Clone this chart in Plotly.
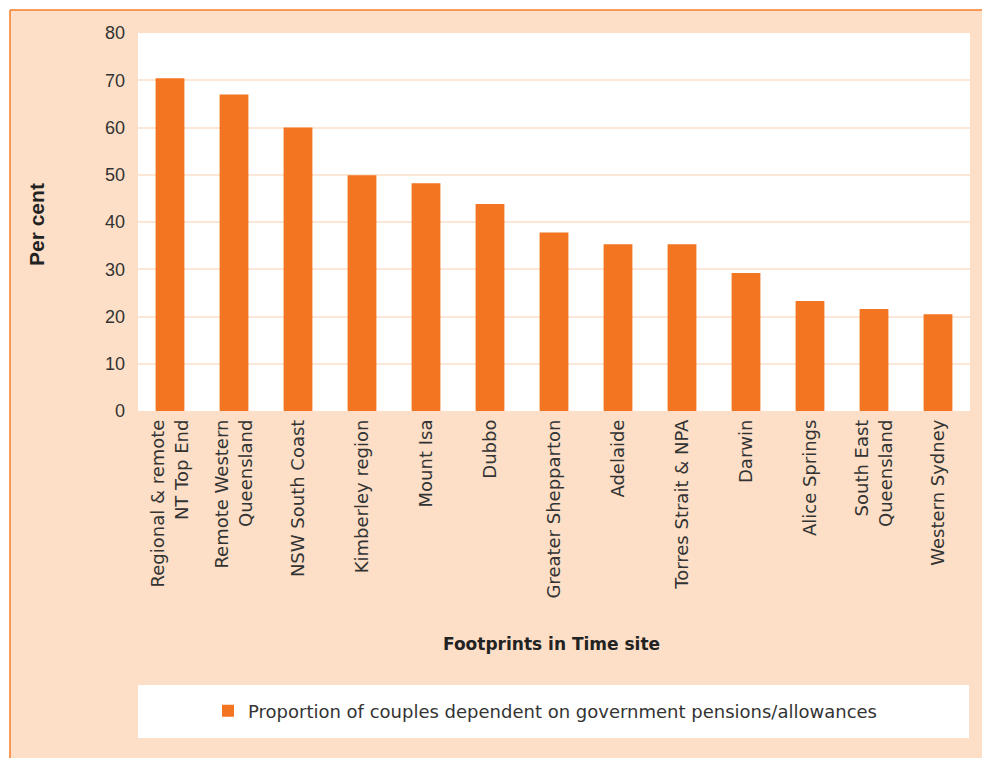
import plotly.graph_objects as go

# Footprints in Time sites and share of couples relying on government payments
sites = [
    "Regional & remote<br>NT Top End",
    "Remote Western<br>Queensland",
    "NSW South Coast",
    "Kimberley region",
    "Mount Isa",
    "Dubbo",
    "Greater Shepparton",
    "Adelaide",
    "Torres Strait & NPA",
    "Darwin",
    "Alice Springs",
    "South East<br>Queensland",
    "Western Sydney",
]
per_cent = [70.4, 67.0, 60.0, 49.9, 48.2, 43.8, 37.8, 35.3, 35.3, 29.2, 23.3, 21.6, 20.5]
series_name = "Proportion of couples dependent on government pensions/allowances"
y_ticks = [0, 10, 20, 30, 40, 50, 60, 70, 80]

W, H = 982, 758
L, R, T, B = 138, 12, 33, 347
PW, PH = W - L - R, H - T - B

PEACH = "#FDDFC7"
ORANGE = "#F37521"
BORDER = "#F47D2A"
GRID = "#FCE6D6"
TEXT = "#333333"
GOTHIC = "DejaVu Sans"


def px_x(px):
    return (px - L) / PW


def px_y(py):
    return (H - B - py) / PH


fig = go.Figure(
    go.Bar(
        x=sites,
        y=per_cent,
        name=series_name,
        marker=dict(color=ORANGE, line=dict(width=0)),
        showlegend=True,
    )
)

shapes = [
    # white margin outside the panel
    dict(type="rect", xref="paper", yref="paper", x0=px_x(-5), x1=px_x(10), y0=px_y(H + 5), y1=px_y(-5),
         fillcolor="white", line=dict(width=0), layer="below"),
    dict(type="rect", xref="paper", yref="paper", x0=px_x(-5), x1=px_x(W + 5), y0=px_y(10), y1=px_y(-5),
         fillcolor="white", line=dict(width=0), layer="below"),
    # panel border
    dict(type="line", xref="paper", yref="paper", x0=px_x(10), x1=px_x(10), y0=px_y(H + 5), y1=px_y(10),
         line=dict(color=BORDER, width=1.5), layer="below"),
    dict(type="line", xref="paper", yref="paper", x0=px_x(10), x1=px_x(W + 5), y0=px_y(10), y1=px_y(10),
         line=dict(color=BORDER, width=1.5), layer="below"),
    # legend box
    dict(type="rect", xref="paper", yref="paper", x0=px_x(138), x1=px_x(969), y0=px_y(738), y1=px_y(685),
         fillcolor="white", line=dict(width=0), layer="below"),
]

annotations = [
    dict(text="<b>Footprints in Time site</b>", xref="paper", yref="paper",
         x=px_x(551), y=px_y(644), xanchor="center", yanchor="middle", showarrow=False,
         font=dict(family=GOTHIC, size=17, color="#222222")),
    dict(text="<b>Per cent</b>", xref="paper", yref="paper", textangle=-90,
         x=px_x(36), y=px_y(225), xanchor="center", yanchor="middle", showarrow=False,
         font=dict(family="Liberation Sans, Arial", size=21, color="#222222")),
]

fig.update_layout(
    width=W,
    height=H,
    margin=dict(l=L, r=R, t=T, b=B, pad=0),
    paper_bgcolor=PEACH,
    plot_bgcolor="white",
    bargap=0.55,
    shapes=shapes,
    annotations=annotations,
    legend=dict(
        orientation="h",
        x=px_x(545), y=px_y(711), xanchor="center", yanchor="middle",
        bgcolor="rgba(0,0,0,0)",
        itemwidth=30,
        font=dict(family=GOTHIC, size=18, color=TEXT),
    ),
)

fig.update_xaxes(
    tickangle=-90,
    tickfont=dict(family=GOTHIC, size=18, color=TEXT),
    showgrid=False,
    showline=False,
    ticks="",
    ticklabelstandoff=4,
)
fig.update_yaxes(
    range=[0, 80],
    tickvals=y_ticks,
    tickfont=dict(family="Liberation Sans, Arial", size=18, color=TEXT),
    showgrid=True,
    gridcolor=GRID,
    gridwidth=2,
    zeroline=False,
    showline=False,
    ticks="",
    ticklabelstandoff=12,
)

fig.write_html("out.html")
